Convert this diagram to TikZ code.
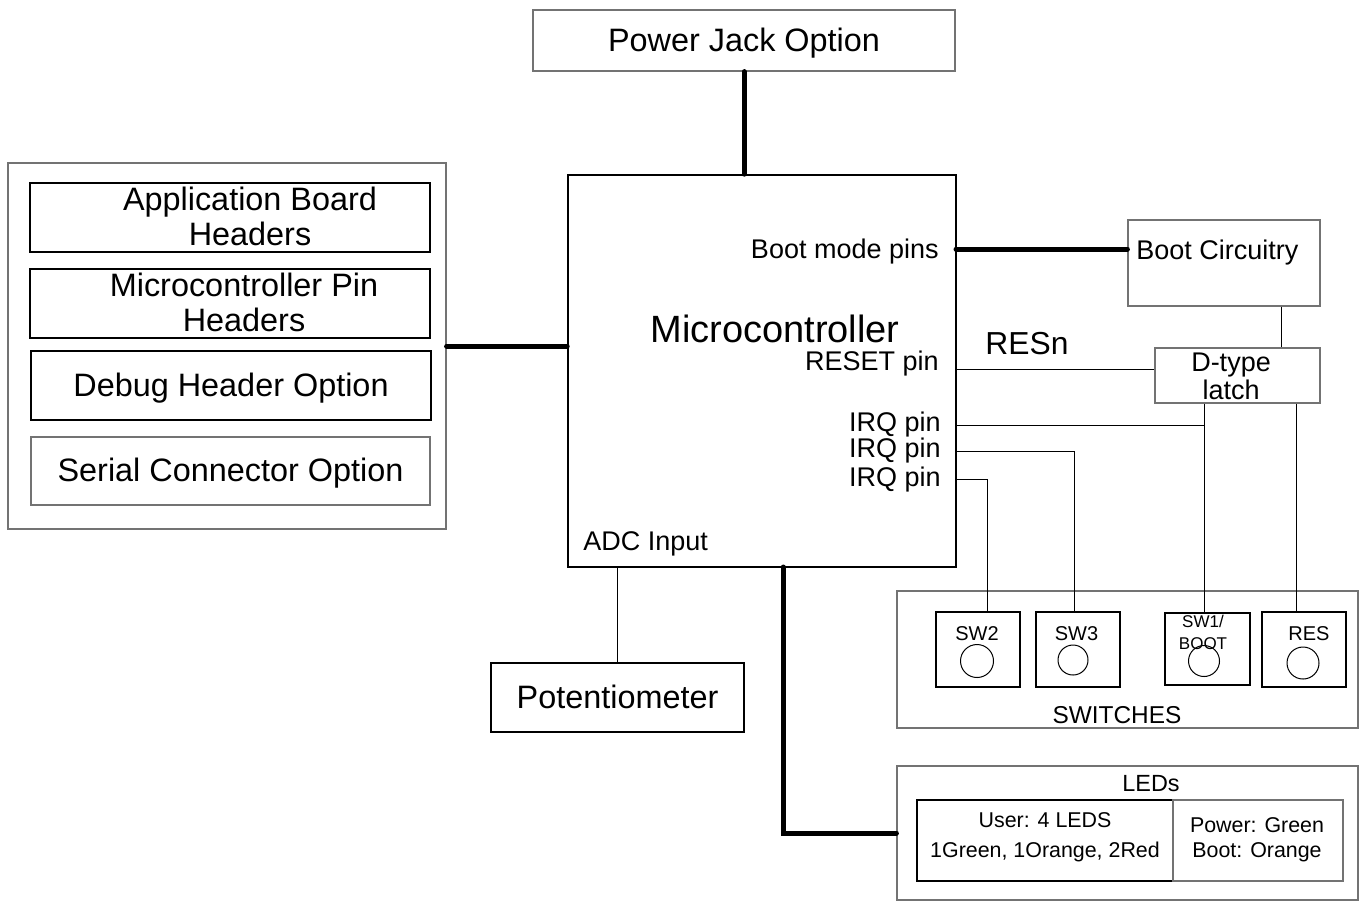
\documentclass[tikz,border=0pt]{standalone}
\usepackage{fontspec}
\setmainfont{Liberation Sans}
\usetikzlibrary{positioning}

\begin{document}
\begin{tikzpicture}[
    x=0.5pt, y=-0.5pt,
    every node/.style={inner sep=0pt},
    block/.style={draw=black, line width=0.8pt},
    greyblock/.style={draw=black!55, line width=0.6pt},
    swbox/.style={draw=black, line width=1pt, minimum width=42pt, minimum height=37.5pt},
    button/.style={circle, draw=black, line width=0.5pt, minimum size=15.5pt},
    big/.style={font=\fontsize{16.2}{17.5}\selectfont, align=center},
    oneline/.style={text height=14pt, text depth=3.4pt},
    mid/.style={font=\fontsize{13.5}{14}\selectfont, align=center},
    small/.style={font=\fontsize{10.7}{15}\selectfont, align=center},
    swlabel/.style={font=\fontsize{10}{11}\selectfont, align=center},
    bus/.style={line width=2.5pt, line cap=round},
    wire/.style={line width=0.5pt},
]
    \useasboundingbox (0,0) rectangle (1363,902);

    % Power and microcontroller
    \node[greyblock, big, oneline, minimum width=211pt, minimum height=30.5pt] (jack) at (744,40.5) {Power Jack Option};
    \node[block, minimum width=194pt, minimum height=196pt] (mcu) at (762,371) {};
    \node[font=\fontsize{19}{20}\selectfont] (mcutxt) at (775,329) {Microcontroller};
    \node[mid, anchor=east] (bootpins) at (939,252) {Boot mode pins};
    \node[mid, anchor=east] (rsttxt) at (939,364) {RESET pin};
    \node[mid, anchor=east] (irqa) at (941,425) {IRQ pin};
    \node[mid, anchor=east] (irqb) at (941,451) {IRQ pin};
    \node[mid, anchor=east] (irqc) at (941,479) {IRQ pin};
    \node[mid, anchor=west] (adc) at (583,544) {ADC Input};
    \node[font=\fontsize{15.9}{17}\selectfont, anchor=west] (resn) at (985,344) {RESn};

    % Headers
    \node[greyblock, minimum width=219pt, minimum height=183pt] (hdrs) at (227,346) {};
    \node[block, minimum width=200pt, minimum height=34.5pt] (app) at (230,217.5) {};
    \node[big] (apptxt) at (250,216.5) {Application Board\\Headers};
    \node[block, minimum width=200pt, minimum height=34.5pt] (pinhdr) at (230,303.5) {};
    \node[big] (pintxt) at (244,302.5) {Microcontroller Pin\\Headers};
    \node[block, big, oneline, minimum width=200pt, minimum height=34.5pt] (debug) at (231,385.5) {Debug Header Option};
    \node[greyblock, big, oneline, minimum width=199.5pt, minimum height=34pt] (serial) at (230.5,471) {Serial Connector Option};

    % Boot circuitry and latch
    \node[greyblock, minimum width=96pt, minimum height=43pt] (boot) at (1224,263) {};
    \node[mid, anchor=west] (boottxt) at (1136,253) {Boot Circuitry};
    \node[greyblock, minimum width=82.5pt, minimum height=27.5pt] (latch) at (1237.5,375.5) {};
    \node[mid] (latchtxt) at (1231,376) {D-type\\latch};

    \node[block, big, oneline, minimum width=126.5pt, minimum height=34.5pt] (pot) at (617.5,697.5) {Potentiometer};

    % Switches
    \node[greyblock, minimum width=230.5pt, minimum height=68.5pt] (switches) at (1127.5,659.5) {};
    \node[font=\fontsize{12.2}{13}\selectfont] (swtxt) at (1117,715) {SWITCHES};
    \node[swbox] (sw2) at (978,649.5) {};
    \node[swbox] (sw3) at (1078,649.5) {};
    \node[swbox, minimum width=42.5pt, minimum height=36pt] (sw1) at (1207.5,649) {};
    \node[swbox] (res) at (1304,649.5) {};
    \node[swlabel] (sw2txt) at (977,634) {SW2};
    \node[swlabel] (sw3txt) at (1076.5,634) {SW3};
    \node[font=\fontsize{8.5}{11}\selectfont, align=center] (sw1txt) at (1203,632) {SW1/\\BOOT};
    \node[swlabel] (restxt) at (1309,634) {RES};
    \node[button, minimum size=16.5pt] (sw2btn) at (977,661) {};
    \node[button, minimum size=15pt] (sw3btn) at (1073,660) {};
    \node[button] (sw1btn) at (1204,661) {};
    \node[button, minimum size=16pt] (resbtn) at (1303,663) {};

    % LEDs
    \node[greyblock, minimum width=230.5pt, minimum height=67pt] (leds) at (1127.5,833) {};
    \node[font=\fontsize{11.7}{12}\selectfont] (ledtxt) at (1151,784) {LEDs};
    \node[block, minimum width=128pt, minimum height=40.5pt] (user) at (1045,840.5) {};
    \node[small] (usertxt) at (1045,837) {User: 4 LEDS\\1Green, 1Orange, 2Red};
    \node[greyblock, minimum width=85pt, minimum height=40.5pt] (status) at (1258,840.5) {};
    \node[font=\fontsize{10.7}{12.5}\selectfont, align=center] (statustxt) at (1257,840) {Power: Green\\Boot: Orange};

    % pin taps
    \coordinate (bootbus) at (956,249);
    \coordinate (rstpin) at (956,369);
    \coordinate (sw1in) at (1204,613);
    \coordinate (sw2in) at (987,612);
    \coordinate (sw3in) at (1074,612);
    \coordinate (resin) at (1296,612);
    \coordinate (ledbus) at (783,567);

    % Connections
    \draw[bus] (jack.south) -- (jack.south |- mcu.north);
    \draw[bus] (hdrs.east) -- (hdrs.east -| mcu.west);
    \draw[bus] (bootbus) -- (bootbus -| boot.west);
    \draw[bus] (ledbus) |- (leds.west);
    \draw[wire] (boot.-37) -- (boot.-37 |- latch.north);
    \draw[wire] (rstpin) -- (rstpin -| latch.west);
    \draw[wire] (latch.south -| sw1in) -- (sw1in);
    \draw[wire] (latch.south -| resin) -- (resin);
    \draw[wire] (irqa.east -| mcu.east) -- (irqa.east -| sw1in);
    \draw[wire] (irqb.east -| mcu.east) -| (sw3in);
    \draw[wire] (irqc.east -| mcu.east) -| (sw2in);
    \draw[wire] (pot.north) -- (pot.north |- mcu.south);

\end{tikzpicture}
\end{document}
